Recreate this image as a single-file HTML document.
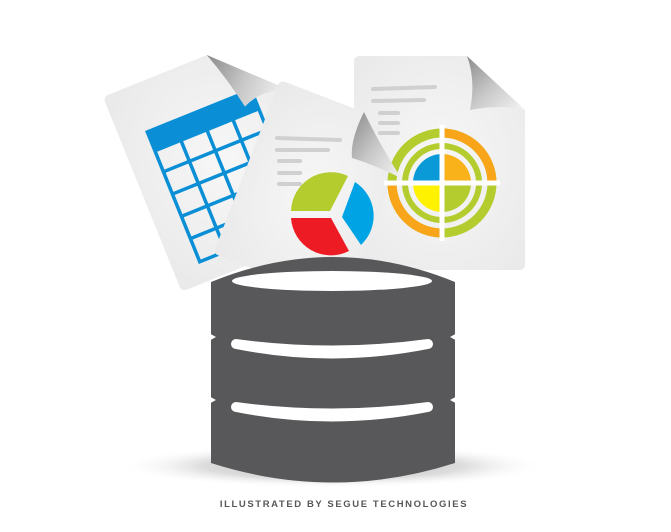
<!DOCTYPE html>
<html><head><style>html,body{margin:0;padding:0;background:#fff;width:671px;height:532px;overflow:hidden}</style></head>
<body>
<svg width="671" height="532" viewBox="0 0 671 532" xmlns="http://www.w3.org/2000/svg">
<defs>
<radialGradient id="sh" cx="50%" cy="50%" r="50%"><stop offset="0" stop-color="#bdbdbd"/><stop offset="0.6" stop-color="#dcdcdc"/><stop offset="1" stop-color="#fff" stop-opacity="0"/></radialGradient>
<radialGradient id="pp" cx="50%" cy="50%" r="70%"><stop offset="0" stop-color="#f7f7f7"/><stop offset="1" stop-color="#e9e9e9"/></radialGradient>
<linearGradient id="fold" x1="0" y1="0" x2="1" y2="1"><stop offset="0" stop-color="#8a8a8a"/><stop offset="0.5" stop-color="#c8c8c8"/><stop offset="1" stop-color="#f4f4f4"/></linearGradient>
</defs>
<ellipse cx="333" cy="466" rx="215" ry="22" fill="url(#sh)"/>

<!-- left doc -->
<g transform="translate(103,97) rotate(-22)">
<path d="M6,0 L112,0 L175,63 L175,204 Q175,210 169,210 L6,210 Q0,210 0,204 L0,6 Q0,0 6,0Z" fill="url(#pp)"/>
<g fill="none" stroke="#0a8fd6" stroke-width="3.5">
<rect x="28" y="49" width="112" height="140"/>
<line x1="28" y1="92" x2="140" y2="92"/><line x1="28" y1="116" x2="140" y2="116"/><line x1="28" y1="140" x2="140" y2="140"/><line x1="28" y1="164" x2="140" y2="164"/>
<line x1="56" y1="68" x2="56" y2="189"/><line x1="84" y1="68" x2="84" y2="189"/><line x1="112" y1="68" x2="112" y2="189"/>
</g>
<rect x="28" y="49" width="112" height="22" fill="#0a8fd6"/>
<path d="M112,0 L175,63 Q150,52 128,62 Q122,30 112,0Z" fill="url(#fold)"/>
</g>

<!-- right doc -->
<path d="M360,56 L467,56 L525,110 L525,264 Q525,270 519,270 L360,270 Q354,270 354,264 L354,62 Q354,56 360,56Z" fill="url(#pp)"/>
<g stroke="#d0d0d0" stroke-width="4" stroke-linecap="round">
<line x1="373" y1="89" x2="435" y2="87"/><line x1="373" y1="101" x2="424" y2="100"/><line x1="380" y1="113" x2="398" y2="113"/><line x1="380" y1="123" x2="398" y2="123"/><line x1="380" y1="133" x2="398" y2="133"/>
</g>
<path d="M467,56 L525,110 Q500,104 470,110 Q476,80 467,56Z" fill="url(#fold)"/>

<!-- middle doc -->
<g transform="translate(280,80) rotate(21)">
<path d="M6,0 L90,0 L140,50 L140,186 L6,186 Q0,186 0,180 L0,6 Q0,0 6,0Z" fill="url(#pp)"/>
</g>

<g transform="translate(442,183)">
<circle r="50" fill="none" stroke="#b5cc2e" stroke-width="9"/>
<path d="M0,-50 A50,50 0 0 1 50,0" fill="none" stroke="#f9a51a" stroke-width="9"/>
<path d="M-50,0 A50,50 0 0 0 0,50" fill="none" stroke="#f9a51a" stroke-width="9"/>
<circle r="37" fill="none" stroke="#b5cc2e" stroke-width="6"/>
<path d="M0,0 L-29,0 A29,29 0 0 1 0,-29Z" fill="#0a9ad7"/>
<path d="M0,0 L0,-29 A29,29 0 0 1 29,0Z" fill="#f9b21a"/>
<path d="M0,0 L-29,0 A29,29 0 0 0 0,29Z" fill="#fff200"/>
<path d="M0,0 L29,0 A29,29 0 0 1 0,29Z" fill="#b5cc2e"/>
<rect x="-2.5" y="-58" width="5" height="116" fill="#fff"/>
<rect x="-58" y="-2.5" width="116" height="5" fill="#fff"/>
</g>

<g stroke="#d0d0d0" stroke-width="4" stroke-linecap="round">
<line x1="277" y1="138" x2="340" y2="140"/><line x1="277" y1="150" x2="328" y2="150"/><line x1="279" y1="161" x2="300" y2="161"/><line x1="279" y1="173" x2="300" y2="173"/><line x1="279" y1="184" x2="300" y2="184"/>
</g>
<path d="M364,112 Q350,140 352,158 Q372,164 401,178 Q380,145 364,112Z" fill="url(#fold)"/>
<g transform="translate(333,215)">
<path d="M-3,-4 L-42,-4 A40,40 0 0 1 15,-39 Z" fill="#b5cc2e"/>
<path d="M9,2 L22,-33 A40,40 0 0 1 28,30 Z" fill="#00a4e4"/>
<path d="M-2,3 L16,36 A40,40 0 0 1 -42,3 Z" fill="#ed1c24"/>
</g>

<!-- database -->
<path d="M211,282 Q333,232 455,282 L455,463 Q333,502 211,463 Z" fill="#58585a"/>
<ellipse cx="332" cy="281" rx="100" ry="10" fill="#fff"/>
<path d="M236,339 Q332,352 428,339 A5,5 0 0 1 428,349 Q332,368 236,349 A5,5 0 0 1 236,339Z" fill="#fff"/>
<path d="M236,402 Q332,415 428,402 A5,5 0 0 1 428,412 Q332,431 236,412 A5,5 0 0 1 236,402Z" fill="#fff"/>
<polygon points="205,331 216,337 205,343" fill="#fff"/>
<polygon points="461,331 450,337 461,343" fill="#fff"/>
<polygon points="205,394 216,400 205,406" fill="#fff"/>
<polygon points="461,394 450,400 461,406" fill="#fff"/>

<text x="344" y="507" text-anchor="middle" font-family="Liberation Sans, sans-serif" font-size="9.5" font-weight="bold" letter-spacing="1.6" fill="#58585a">ILLUSTRATED BY SEGUE TECHNOLOGIES</text>
</svg>
</body></html>
